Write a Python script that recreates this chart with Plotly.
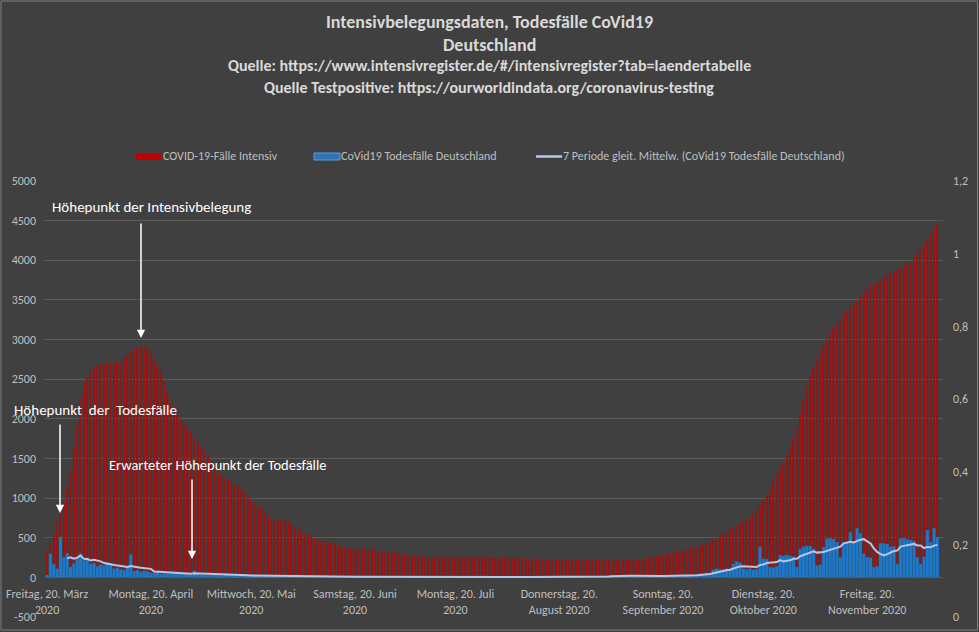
import pandas as pd
import plotly.graph_objects as go

# ---------------- data (daily, 20 Mar 2020 - 11 Dec 2020) ----------------
start_date = "2020-03-20"

icu_mar = [340, 430, 550, 680, 800, 950, 1150, 1350, 1650, 1950, 2270, 2450]
icu_apr = [2520, 2600, 2650, 2680, 2700, 2710, 2700, 2715, 2710, 2720,
           2730, 2760, 2800, 2840, 2870, 2910, 2930, 2900, 2880, 2830,
           2760, 2680, 2600, 2490, 2330, 2200, 2110, 2040, 2000, 1950]
icu_may = [1880, 1830, 1760, 1700, 1650, 1600, 1540, 1460, 1390, 1330,
           1290, 1260, 1230, 1210, 1190, 1150, 1120, 1080, 1020, 975,
           940, 910, 885, 840, 780, 730, 720, 720, 715, 720, 700]
icu_jun = [670, 630, 610, 590, 560, 540, 520, 495, 480, 460,
           450, 440, 435, 430, 410, 390, 370, 365, 365, 365,
           365, 360, 355, 350, 345, 340, 335, 330, 325, 320]
icu_jul = [320, 315, 310, 300, 290, 285, 280, 275, 270, 265,
           260, 255, 255, 255, 260, 255, 255, 250, 255, 255,
           250, 255, 260, 250, 245, 250, 255, 250, 245, 250, 245]
icu_aug = [245, 240, 245, 250, 240, 235, 245, 240, 235, 240,
           230, 235, 240, 235, 230, 235, 230, 225, 230, 235,
           230, 225, 230, 235, 225, 220, 225, 230, 225, 220, 225]
icu_sep = [220, 215, 215, 220, 215, 215, 210, 215, 220, 215,
           220, 225, 230, 235, 240, 248, 255, 265, 280, 288,
           295, 300, 310, 320, 330, 340, 350, 365, 375, 390]
icu_oct = [400, 415, 430, 450, 470, 490, 520, 545, 570, 595,
           620, 650, 680, 700, 720, 760, 800, 850, 910, 970,
           1030, 1100, 1200, 1310, 1370, 1440, 1540, 1640, 1770, 1900, 2070]
icu_nov = [2240, 2390, 2530, 2640, 2740, 2830, 2910, 3000, 3080, 3150,
           3210, 3270, 3330, 3370, 3410, 3450, 3500, 3550, 3590, 3640,
           3690, 3710, 3730, 3750, 3790, 3820, 3850, 3870, 3880, 3900]
icu_dec = [3930, 3950, 3980, 4040, 4090, 4140, 4190, 4260, 4340, 4400, 4450]

deaths_mar = [30, 300, 170, 110, 510, 255, 305, 130, 175, 255, 300, 215]
deaths_apr = [250, 170, 180, 140, 160, 150, 190, 170, 110, 120,
              100, 90, 130, 290, 80, 90, 70, 85, 75, 60,
              55, 65, 45, 50, 45, 55, 60, 55, 40, 45]
deaths_may = [40, 35, 85, 45, 40, 35, 30, 40, 35, 30,
              25, 35, 30, 30, 25, 20, 30, 25, 20, 20,
              25, 20, 15, 20, 18, 15, 12, 20, 15, 12, 10]
deaths_jun = [12, 10, 15, 10, 8, 12, 10, 8, 10, 12,
              8, 6, 10, 8, 9, 7, 10, 6, 8, 7,
              9, 10, 6, 5, 8, 7, 6, 9, 5, 7]
deaths_jul = [6, 5, 8, 4, 6, 7, 5, 6, 4, 8,
              5, 6, 3, 7, 5, 4, 6, 5, 7, 4,
              3, 6, 5, 4, 7, 3, 5, 6, 4, 5, 3]
deaths_aug = [5, 4, 6, 3, 5, 7, 4, 3, 6, 5,
              4, 3, 5, 6, 4, 3, 5, 4, 6, 3,
              4, 5, 3, 6, 4, 5, 3, 4, 6, 5, 4]
deaths_sep = [8, 12, 20, 25, 30, 22, 15, 10, 12, 18,
              25, 20, 15, 10, 12, 15, 20, 25, 18, 15,
              12, 20, 25, 30, 28, 20, 15, 25, 30, 35]
deaths_oct = [50, 45, 55, 50, 100, 110, 105, 100, 110, 95,
              170, 200, 190, 110, 100, 110, 95, 105, 385, 235,
              230, 130, 125, 140, 280, 270, 285, 275, 265, 130, 360]
deaths_nov = [390, 400, 395, 360, 150, 160, 385, 490, 495, 485,
              445, 255, 445, 440, 570, 445, 620, 555, 300, 255,
              250, 130, 140, 430, 430, 420, 385, 390, 170, 490]
deaths_dec = [495, 480, 470, 460, 255, 170, 260, 595, 445, 620, 510]

tick_dates = ["2020-03-20", "2020-04-20", "2020-05-20", "2020-06-20", "2020-07-20",
              "2020-08-20", "2020-09-20", "2020-10-20", "2020-11-20"]
tick_texts = ["Freitag, 20. März<br>2020", "Montag, 20. April<br>2020",
              "Mittwoch, 20. Mai<br>2020", "Samstag, 20. Juni<br>2020",
              "Montag, 20. Juli<br>2020", "Donnerstag, 20.<br>August 2020",
              "Sonntag, 20.<br>September 2020", "Dienstag, 20.<br>Oktober 2020",
              "Freitag, 20.<br>November 2020"]
left_ticks = list(range(-500, 5001, 500))
right_ticks = [0, 0.2, 0.4, 0.6, 0.8, 1.0, 1.2]
right_labels = ["0", "0,2", "0,4", "0,6", "0,8", "1", "1,2"]

icu = icu_mar + icu_apr + icu_may + icu_jun + icu_jul + icu_aug + icu_sep + icu_oct + icu_nov + icu_dec
deaths = (deaths_mar + deaths_apr + deaths_may + deaths_jun + deaths_jul + deaths_aug
          + deaths_sep + deaths_oct + deaths_nov + deaths_dec)
dates = pd.date_range(start_date, periods=len(icu), freq="D")
ma7 = pd.Series(deaths).rolling(7).mean()

# ---------------- figure ----------------
W, H = 979, 632
ML, MR, MT, MB = 45, 36, 181, 15
PW, PH = W - ML - MR, H - MT - MB


def PX(px):
    return (px - ML) / PW


def PY(py):
    return (H - MB - py) / PH


FONT = "Carlito, Lato, sans-serif"
DAY = 86400000

fig = go.Figure()
fig.add_trace(go.Bar(x=dates, y=icu, width=0.42 * DAY, marker=dict(color="#981414", line=dict(width=0)),
                     name="COVID-19-Fälle Intensiv"))
fig.add_trace(go.Bar(x=dates, y=deaths, width=0.9 * DAY, marker=dict(color="#1C78C8", line=dict(width=0)),
                     name="CoVid19 Todesfälle Deutschland"))
fig.add_trace(go.Scatter(x=dates, y=ma7, mode="lines", line=dict(color="#B4C7E7", width=2),
                         name="7 Periode gleit. Mittelw. (CoVid19 Todesfälle Deutschland)"))
fig.add_trace(go.Scatter(x=[], y=[], yaxis="y2", showlegend=False))

annotations = []
# title lines
for txt, py, size in [("Intensivbelegungsdaten, Todesfälle CoVid19", 22, 18),
                      ("Deutschland", 45, 18),
                      ("Quelle: https://www.intensivregister.de/#/intensivregister?tab=laendertabelle", 66, 16),
                      ("Quelle Testpositive: https://ourworldindata.org/coronavirus-testing", 87, 16)]:
    annotations.append(dict(text="<b>" + txt + "</b>", x=PX(489), y=PY(py), xref="paper", yref="paper",
                            showarrow=False, xanchor="center", yanchor="middle",
                            font=dict(family=FONT, size=size, color="#D9D9D9")))
# legend texts
for txt, px in [("COVID-19-Fälle Intensiv", 161), ("CoVid19 Todesfälle Deutschland", 339),
                ("7 Periode gleit. Mittelw. (CoVid19 Todesfälle Deutschland)", 561)]:
    annotations.append(dict(text=txt, x=PX(px), y=PY(156.5), xref="paper", yref="paper", showarrow=False,
                            xanchor="left", yanchor="middle", font=dict(family=FONT, size=12, color="#BFBFBF")))
# callouts
for txt, px, py, size in [("Höhepunkt der Intensivbelegung", 151, 207, 15),
                          ("Höhepunkt\u00a0 der\u00a0 Todesfälle", 95, 410, 15),
                          ("Erwarteter Höhepunkt der Todesfälle", 217, 465, 14.5)]:
    annotations.append(dict(text=txt, x=PX(px), y=PY(py), xref="paper", yref="paper", showarrow=False,
                            xanchor="center", yanchor="middle", font=dict(family=FONT, size=size, color="white")))
for px, py, length in [(141, 338, 116), (60, 513, 90), (192, 559, 81)]:
    annotations.append(dict(text="", x=PX(px), y=PY(py), xref="paper", yref="paper", showarrow=True,
                            ax=0, ay=-length, arrowhead=2, arrowsize=1.1, arrowwidth=1.5, arrowcolor="white"))

shapes = [
    dict(type="rect", xref="paper", yref="paper", x0=PX(136), x1=PX(161), y0=PY(160), y1=PY(153),
         fillcolor="#C00000", line=dict(width=0)),
    dict(type="rect", xref="paper", yref="paper", x0=PX(314), x1=PX(340), y0=PY(160), y1=PY(153),
         fillcolor="#2E75B6", line=dict(width=1, color="#5B9BD5")),
    dict(type="line", xref="paper", yref="paper", x0=PX(536), x1=PX(562), y0=PY(156.5), y1=PY(156.5),
         line=dict(width=2.5, color="#B4C7E7")),
    dict(type="rect", xref="paper", yref="paper", x0=PX(1), x1=PX(977.5), y0=PY(630), y1=PY(1),
         line=dict(width=1, color="#7F7F7F")),
]

fig.update_layout(
    width=W, height=H, margin=dict(l=ML, r=MR, t=MT, b=MB, autoexpand=False),
    paper_bgcolor="#404040", plot_bgcolor="#404040",
    barmode="overlay", showlegend=False,
    font=dict(family=FONT, color="#BFBFBF"),
    annotations=annotations, shapes=shapes,
    xaxis=dict(type="date", range=["2020-03-19 09:00", "2020-12-12 16:00"],
               tickvals=tick_dates, ticktext=tick_texts, tickangle=0, automargin=False,
               anchor="free", position=500 / 5500, showgrid=False, zeroline=False, showline=False,
               ticks="", ticklabelstandoff=8, tickfont=dict(family=FONT, size=12, color="#BFBFBF")),
    yaxis=dict(range=[-500, 5000], tickvals=left_ticks, ticktext=[str(v) for v in left_ticks],
               automargin=False,
               showgrid=True, gridcolor="#5A5A5A", gridwidth=1, zeroline=False, showline=False, ticks="",
               ticklabelstandoff=8, tickfont=dict(family=FONT, size=12, color="#BFBFBF")),
    yaxis2=dict(range=[0, 1.2], overlaying="y", side="right", tickvals=right_ticks, ticktext=right_labels,
                automargin=False,
                showgrid=False, zeroline=False, showline=False, ticks="", ticklabelstandoff=9,
                tickfont=dict(family=FONT, size=12, color="#BFBFBF")),
)

fig.write_html("out.html")
